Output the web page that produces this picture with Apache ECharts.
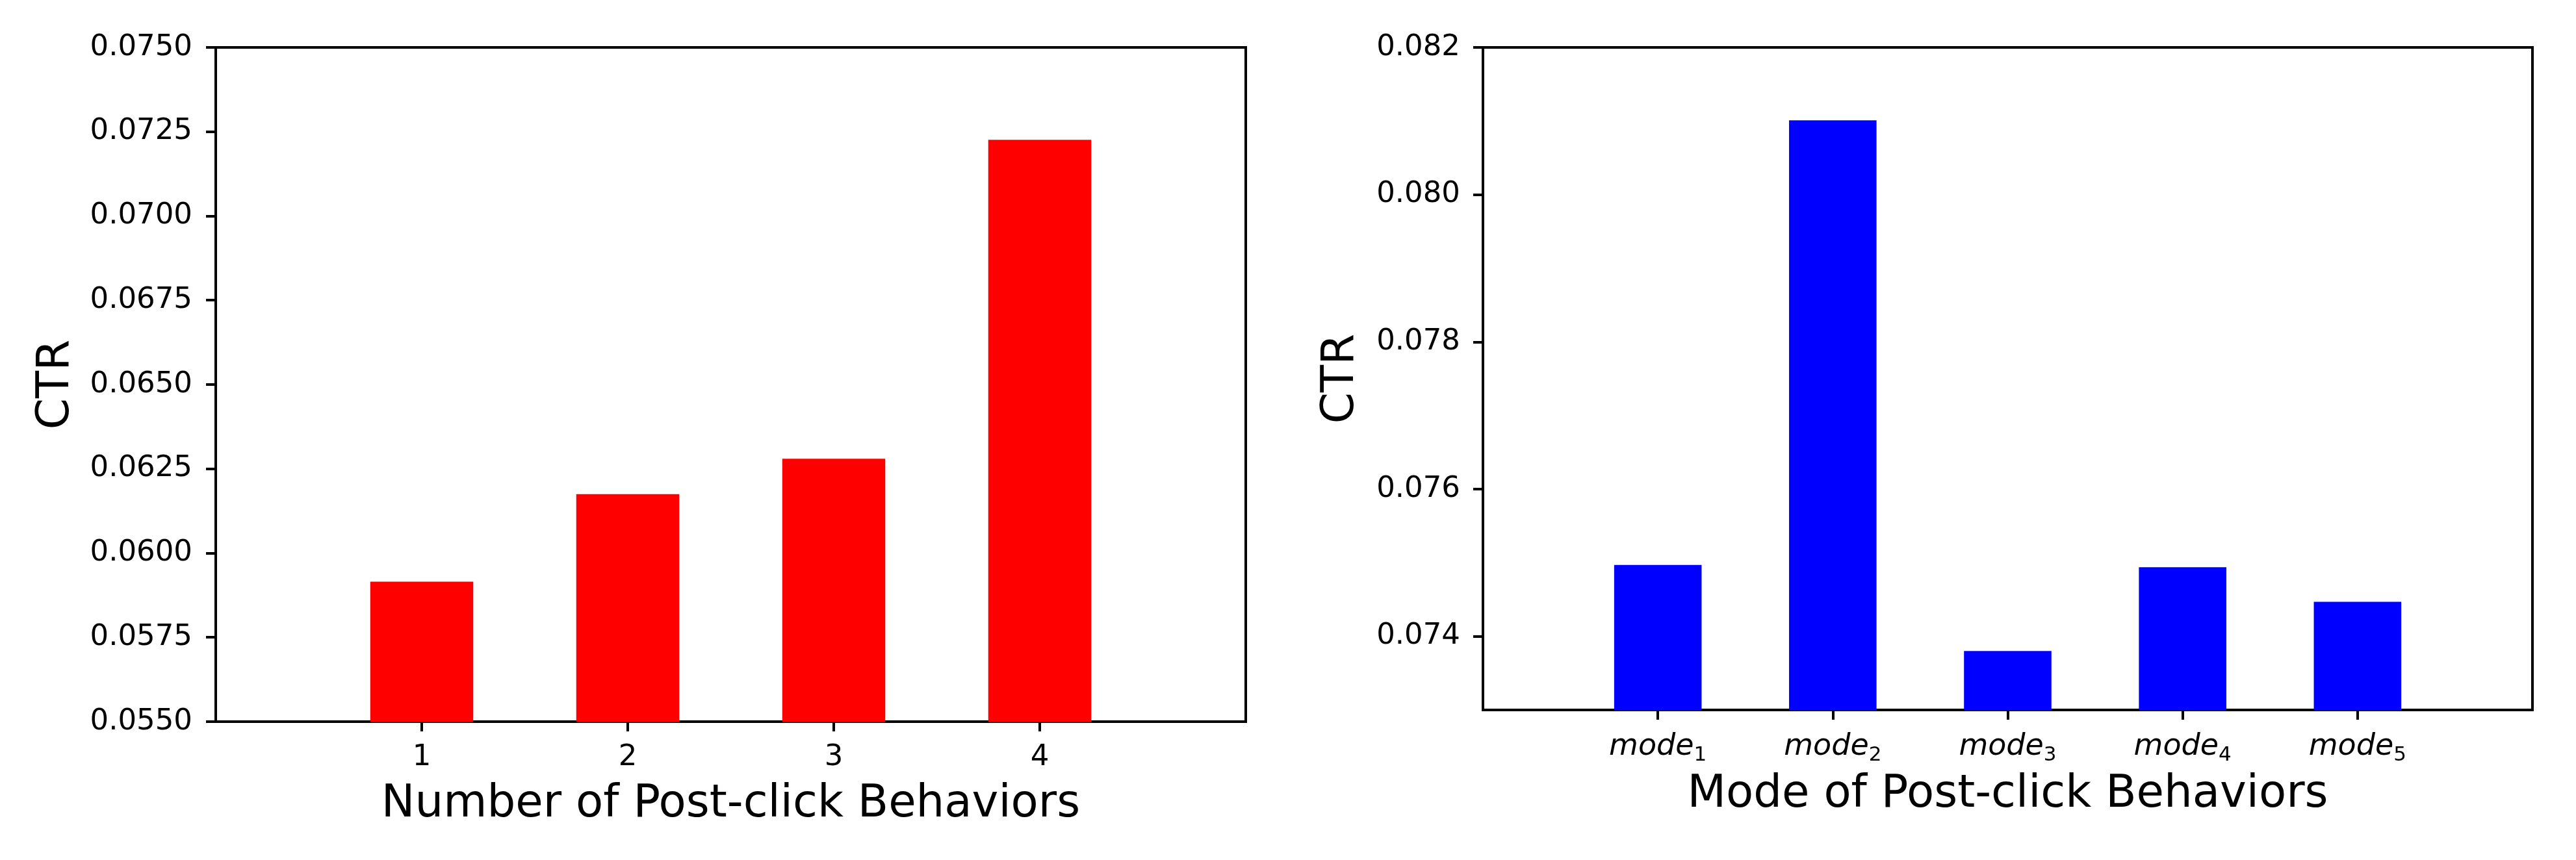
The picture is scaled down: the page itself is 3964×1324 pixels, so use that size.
<!DOCTYPE html>
<html lang="en">

<head>
    <meta charset="UTF-8">
    <title>CTR by post-click behaviors</title>
    <script src="https://cdn.jsdelivr.net/npm/echarts@6/dist/echarts.min.js"></script>
    <style>
        html, body {
            margin: 0;
            padding: 0;
            background: #fff;
        }
        #chart {
            width: 3964px;
            height: 1324px;
        }
    </style>
</head>

<body>
    <div id="chart"></div>
    <script>
        // left panel: number of post-click behaviors
        const numX = [1, 2, 3, 4];
        const numCtr = [0.05915, 0.06175, 0.06280, 0.07226];
        const numTicks = [0.055, 0.0575, 0.06, 0.0625, 0.065, 0.0675, 0.07, 0.0725, 0.075];

        // right panel: mode of post-click behaviors
        const modeX = [1, 2, 3, 4, 5];
        const modeCtr = [0.07497, 0.08101, 0.07380, 0.07494, 0.07447];
        const modeTicks = [0.074, 0.076, 0.078, 0.080, 0.082];

        const FONT = 'DejaVu Sans';
        const lineStyle = { color: '#000', width: 4 };

        function baseAxis(extra) {
            return Object.assign({
                axisLine: { show: true, onZero: false, lineStyle: lineStyle },
                splitLine: { show: false },
                nameLocation: 'middle',
                nameTextStyle: { fontFamily: FONT, fontSize: 69, color: '#000' }
            }, extra);
        }

        const chart = echarts.init(document.getElementById('chart'));
        chart.setOption({
            animation: false,
            backgroundColor: '#fff',
            grid: [
                {
                    left: 332, top: 73, width: 1585, height: 1038,
                    show: true, borderColor: '#000', borderWidth: 4
                },
                {
                    left: 2282, top: 73, width: 1615, height: 1020,
                    show: true, borderColor: '#000', borderWidth: 4
                }
            ],
            xAxis: [
                baseAxis({
                    type: 'value',
                    gridIndex: 0,
                    min: 0,
                    max: 5,
                    name: 'Number of Post-click Behaviors',
                    nameGap: 94,
                    axisTick: { show: true, length: 15, lineStyle: lineStyle, customValues: numX },
                    axisLabel: {
                        customValues: numX,
                        margin: 33,
                        fontFamily: FONT,
                        fontSize: 45,
                        color: '#000'
                    }
                }),
                baseAxis({
                    type: 'value',
                    gridIndex: 1,
                    min: 0,
                    max: 6,
                    name: 'Mode of Post-click Behaviors',
                    nameGap: 97,
                    axisTick: { show: true, length: 15, lineStyle: lineStyle, customValues: modeX },
                    axisLabel: {
                        customValues: modeX,
                        margin: 29,
                        color: '#000',
                        formatter: function (v) {
                            return '{i|mode}{s|' + v + '}';
                        },
                        rich: {
                            i: { fontFamily: FONT, fontStyle: 'italic', fontSize: 46, lineHeight: 56, color: '#000' },
                            s: { fontFamily: FONT, fontSize: 31, lineHeight: 34, verticalAlign: 'bottom', color: '#000' }
                        }
                    }
                })
            ],
            yAxis: [
                baseAxis({
                    type: 'value',
                    gridIndex: 0,
                    min: 0.055,
                    max: 0.075,
                    name: 'CTR',
                    nameGap: 210,
                    axisTick: { show: true, length: 15, lineStyle: lineStyle, customValues: numTicks },
                    axisLabel: {
                        customValues: numTicks,
                        margin: 36,
                        fontFamily: FONT,
                        fontSize: 45,
                        color: '#000',
                        formatter: function (v) { return v.toFixed(4); }
                    }
                }),
                baseAxis({
                    type: 'value',
                    gridIndex: 1,
                    min: 0.073,
                    max: 0.082,
                    name: 'CTR',
                    nameGap: 183,
                    axisTick: { show: true, length: 15, lineStyle: lineStyle, customValues: modeTicks },
                    axisLabel: {
                        customValues: modeTicks,
                        margin: 35,
                        fontFamily: FONT,
                        fontSize: 45,
                        color: '#000',
                        formatter: function (v) { return v.toFixed(3); }
                    }
                })
            ],
            series: [
                {
                    type: 'bar',
                    xAxisIndex: 0,
                    yAxisIndex: 0,
                    barWidth: '50%',
                    itemStyle: { color: '#ff0000' },
                    data: numX.map((x, i) => [x, numCtr[i]])
                },
                {
                    type: 'bar',
                    xAxisIndex: 1,
                    yAxisIndex: 1,
                    barWidth: '50%',
                    itemStyle: { color: '#0000ff' },
                    data: modeX.map((x, i) => [x, modeCtr[i]])
                }
            ]
        });
    </script>
</body>

</html>
